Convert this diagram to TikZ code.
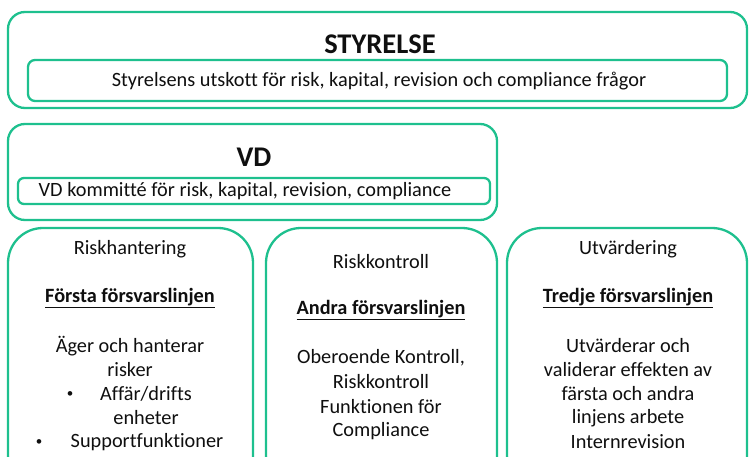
\documentclass[tikz,border=0pt]{standalone}
\usepackage{fontspec}
\setmainfont[Ligatures=NoCommon]{Carlito}
\definecolor{boxgreen}{RGB}{30,192,142}
\definecolor{txt}{RGB}{15,15,15}
\tikzset{
  frame/.style={draw=boxgreen, line width=2.3pt, rounded corners=#1},
  lbl/.style={font=\fontsize{20.3}{24}\selectfont, text=txt, inner sep=0pt, anchor=center},
  bul/.style={font=\fontsize{13}{16}\selectfont, text=txt, inner sep=0pt, anchor=center},
  head/.style={font=\fontsize{28.5}{32}\selectfont\bfseries, text=txt, inner sep=0pt, anchor=center},
}
\begin{document}
\begin{tikzpicture}[x=1pt,y=-1pt]
\useasboundingbox (0,0) rectangle (749,457);
\clip (0,0) rectangle (749,457);
% STYRELSE
\draw[frame=17pt] (8,12) rectangle (747,108);
\draw[frame=7pt] (28,60) rectangle (727,101);
\node[head] (styr) at (380,44) {STYRELSE};
\node[lbl] (styrsub) at (379,81) {Styrelsens utskott för risk, kapital, revision och compliance frågor};
% VD
\draw[frame=17pt] (8,124) rectangle (497,220);
\draw[frame=6pt] (18,178) rectangle (490,204);
\node[head] (vd) at (254,157) {VD};
\node[lbl] (vdsub) at (245,191) {VD kommitté för risk, kapital, revision, compliance};
% Bottom boxes
\draw[frame=35pt] (8,228) rectangle (253,490);
\draw[frame=35pt] (266,228) rectangle (497,490);
\draw[frame=35pt] (507,228) rectangle (747,490);
% Box 1
\node[lbl] (a1) at (130,249) {Riskhantering};
\node[lbl] (a2) at (130,298) {\underline{\textbf{Första försvarslinjen}}};
\node[lbl] (a3) at (130,346) {Äger och hanterar};
\node[lbl] (a4) at (130,370) {risker};
\node[bul] (a5b) at (70,395) {•};
\node[lbl] (a5) at (146,394) {Affär/drifts};
\node[lbl] (a6) at (146,418) {enheter};
\node[bul] (a7b) at (39,443) {•};
\node[lbl] (a7) at (147,442) {Supportfunktioner};
% Box 2
\node[lbl] (b1) at (381,262) {Riskkontroll};
\node[lbl] (b2) at (381,310) {\underline{\textbf{Andra försvarslinjen}}};
\node[lbl] (b3) at (381,358) {Oberoende Kontroll,};
\node[lbl] (b4) at (381,382) {Riskkontroll};
\node[lbl] (b5) at (381,407) {Funktionen för};
\node[lbl] (b6) at (381,431) {Compliance};
% Box 3
\node[lbl] (c1) at (628,249) {Utvärdering};
\node[lbl] (c2) at (628,298) {\underline{\textbf{Tredje försvarslinjen}}};
\node[lbl] (c3) at (628,346) {Utvärderar och};
\node[lbl] (c4) at (628,370) {validerar effekten av};
\node[lbl] (c5) at (628,394) {färsta och andra};
\node[lbl] (c6) at (628,418) {linjens arbete};
\node[lbl] (c7) at (628,442) {Internrevision};
\end{tikzpicture}
\end{document}
